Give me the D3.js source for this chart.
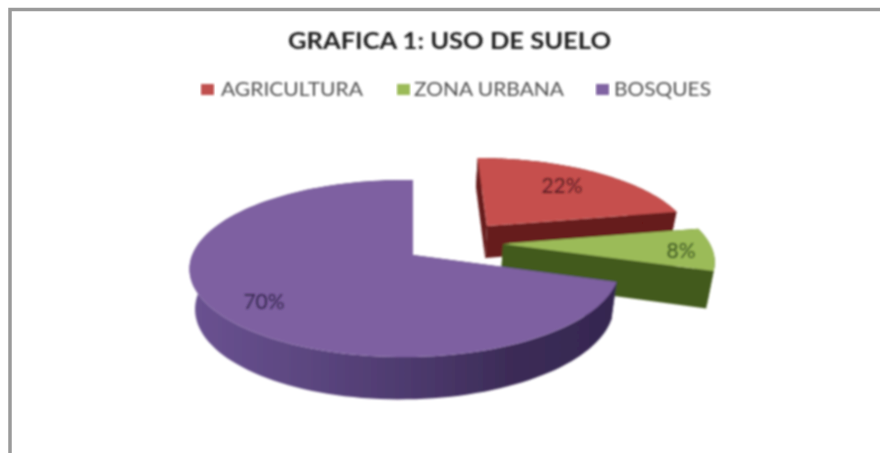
<!DOCTYPE html>
<html><head><meta charset="utf-8">
<script src="https://cdn.jsdelivr.net/npm/d3@7"></script>
<style>html,body{margin:0;padding:0;background:#fff}svg{display:block}text{font-family:Lato,"Noto Sans",sans-serif}</style>
</head><body><svg id="c" width="880" height="453"></svg>
<script>
const categories = ["AGRICULTURA", "ZONA URBANA", "BOSQUES"];
const values = [22, 8, 70];
const chartTitle = "GRAFICA 1: USO DE SUELO";
const topColors = ["#c6504d", "#9bbb59", "#7e60a1"];
const wallColors = ["#661a1a", "#435a1f", "url(#wallP)"];
const labelColors = ["#5c1f22", "#3f5a22", "#35264f"];
const swatchColors = ["#c0504d", "#9bbb59", "#8064a2"];

// layout
const apexX = [487, 503, 413], apexY = [226, 244, 255];
const skew = [0, 0, 0.04], radX = [211, 211, 212], depth = [33, 37, 38];
const labelX = [562, 681, 264], labelY = [188, 253, 304];
const legendSwatchX = [201, 397, 596], legendTextX = [221, 414, 614], legendTextW = [142, 150, 97];
const originX = 413, originY = 255, radY = 86.4, tilt = 0.1525, shrink = 0.975;

const svg = d3.select("#c");
const defs = svg.append("defs");
const f = defs.append("filter").attr("id","soft").attr("x","-5%").attr("y","-5%").attr("width","110%").attr("height","110%");
f.append("feGaussianBlur").attr("stdDeviation",1);
const f2 = defs.append("filter").attr("id","softT").attr("x","-5%").attr("y","-20%").attr("width","110%").attr("height","140%");
f2.append("feGaussianBlur").attr("stdDeviation",0.8);
const g = defs.append("linearGradient").attr("id","wallP").attr("gradientUnits","userSpaceOnUse")
  .attr("x1",190).attr("x2",616).attr("y1",0).attr("y2",0);
[[0,"#6a5291"],[0.3,"#5a457e"],[0.55,"#4b386b"],[0.75,"#3c2c57"],[1,"#352750"]].forEach(s=>g.append("stop").attr("offset",s[0]).attr("stop-color",s[1]));

// frame
svg.append("path").attr("d","M882,9.5H10V455").attr("fill","none").attr("stroke","#9a9a9a").attr("stroke-width",3.5).attr("filter","url(#softF)");
const f3 = defs.append("filter").attr("id","softF").attr("filterUnits","userSpaceOnUse").attr("x",0).attr("y",0).attr("width",880).attr("height",453);
f3.append("feGaussianBlur").attr("stdDeviation",0.7);

// title
svg.append("text").attr("x",288).attr("y",49).attr("font-size",23.5).attr("font-weight",700)
  .attr("textLength",323).attr("lengthAdjust","spacingAndGlyphs")
  .attr("fill","#1f1f1f").attr("filter","url(#softT)").text(chartTitle);

// legend
categories.forEach((c,i)=>{
  svg.append("rect").attr("x",legendSwatchX[i]).attr("y",84).attr("width",13).attr("height",11).attr("fill",swatchColors[i]).attr("filter","url(#softT)");
  svg.append("text").attr("x",legendTextX[i]).attr("y",96).attr("font-size",20).attr("textLength",legendTextW[i]).attr("lengthAdjust","spacingAndGlyphs")
    .attr("fill","#505050").attr("filter","url(#softT)").text(c);
});

// perspective projection of the pie plane
const proj = (i,u,v,low) => {
  const w = 1 - tilt*v + skew[i]*u, q = low ? shrink : 1;
  return [originX + radX[i]*u*q/w, originY + (radY*v*q + (low?depth[i]:0))/w];
};
const invertApex = i => {
  const a=(apexX[i]-originX)/radX[i], b=(apexY[i]-originY)/radY;
  const w = 1/(1 + tilt*b - skew[i]*a);
  return [a*w, b*w];
};
const pie = d3.pie().sort(null).value(d=>d).startAngle(0).endAngle(2*Math.PI);
const arcs = pie(values);
const line = d3.line();
const plot = svg.append("g").attr("filter","url(#soft)");

arcs.forEach((a,i)=>{
  const [cu,cv] = invertApex(i);
  const angles = d3.range(0,121).map(k=>a.startAngle+(a.endAngle-a.startAngle)*k/120);
  const rim = angles.map(t=>[cu+Math.sin(t), cv-Math.cos(t)]);
  const P = (p,low)=>proj(i,p[0],p[1],low);
  const centre=[cu,cv];
  const fillW = wallColors[i];
  [rim[0],rim[rim.length-1]].forEach(p=>{
    plot.append("path").attr("d",line([P(centre,false),P(p,false),P(p,true),P(centre,true)])+"Z").attr("fill",fillW);
  });
  plot.append("path").attr("d",line(rim.map(p=>P(p,false)).concat(rim.slice().reverse().map(p=>P(p,true))))+"Z").attr("fill",fillW);
  plot.append("path").attr("d",line([P(centre,false)].concat(rim.map(p=>P(p,false))))+"Z").attr("fill",topColors[i]);
});

// data labels
arcs.forEach((a,i)=>{
  svg.append("text").attr("x",labelX[i]).attr("y",labelY[i]).attr("text-anchor","middle").attr("dominant-baseline","middle")
    .attr("font-size",21).attr("fill",labelColors[i]).attr("filter","url(#softT)").text(values[i]+"%");
});
</script></body></html>
